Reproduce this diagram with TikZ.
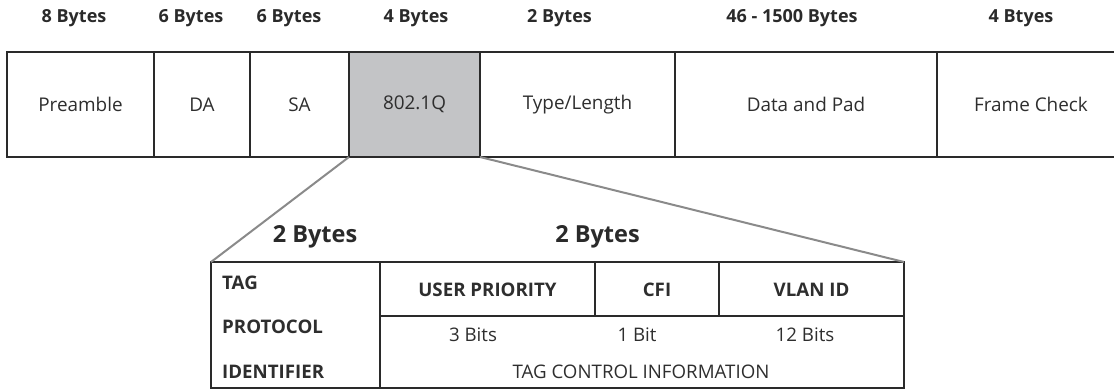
\documentclass[tikz,border=0pt]{standalone}
\usepackage{fontspec}
\setmainfont{Open Sans}
\definecolor{linec}{HTML}{2A2A2A}
\definecolor{txtc}{HTML}{2E2E2E}
\definecolor{qfill}{HTML}{C3C4C6}
\definecolor{connc}{HTML}{8A8A8A}
\tikzset{
  cell/.style={draw=linec, line width=2.4pt, rectangle, inner sep=0pt, outer sep=0pt,
    text=txtc, font=\fontsize{18.9}{22}\selectfont},
  topcell/.style={cell, minimum height=105pt},
  hdr/.style={text=linec, inner sep=0pt, font=\fontsize{18}{21}\selectfont\bfseries},
  bighdr/.style={text=linec, inner sep=0pt, font=\fontsize{23.5}{28}\selectfont\bfseries},
  btxt/.style={text=txtc, inner sep=0pt, font=\fontsize{18.7}{22}\selectfont\bfseries},
  rtxt/.style={text=txtc, inner sep=0pt, font=\fontsize{18.7}{22}\selectfont},
  conn/.style={draw=connc, line width=2pt},
}
\begin{document}
\begin{tikzpicture}[x=1pt,y=-1pt]
\useasboundingbox (0,0) rectangle (1114,390);
% top frame cells
\node[topcell, minimum width=147pt] (pre) at (80.5,104.5) {Preamble};
\node[topcell, minimum width=96pt] (da) at (202,104.5) {DA};
\node[topcell, minimum width=99pt] (sa) at (299.5,104.5) {SA};
\node[topcell, minimum width=131pt, fill=qfill] (q) at (414.5,104.5) {802.1Q};
\node[topcell, minimum width=195pt] (tl) at (577.5,104.5) {Type/Length};
\node[topcell, minimum width=262pt] (dp) at (806,104.5) {Data and Pad};
\node[topcell, minimum width=188pt] (fc) at (1031,104.5) {Frame Check};
% headers
\node[hdr] (h1) at (74,18) {8 Bytes};
\node[hdr] (h2) at (191,18) {6 Bytes};
\node[hdr] (h3) at (289,18) {6 Bytes};
\node[hdr] (h4) at (416,18) {4 Bytes};
\node[hdr] (h5) at (559.5,18) {2 Bytes};
\node[hdr] (h6) at (792,18) {46 - 1500 Bytes};
\node[hdr] (h7) at (1021,18) {4 Btyes};
% lower table
\node[cell, minimum width=169pt, minimum height=126pt] (tpi) at (295.5,325) {};
\node[cell, minimum width=215pt, minimum height=54pt] (up) at (487.5,289) {};
\node[cell, minimum width=124pt, minimum height=54pt] (cfi) at (657,289) {};
\node[cell, minimum width=185pt, minimum height=54pt] (vlan) at (811.5,289) {};
\node[cell, minimum width=524pt, minimum height=72pt] (tci) at (642,352) {};
\node[btxt, anchor=west] (t1) at (222,283) {TAG};
\node[btxt, anchor=west] (t2) at (222,327) {PROTOCOL};
\node[btxt, anchor=west] (t3) at (222,372) {IDENTIFIER};
\node[btxt] (upt) at (487.5,290) {USER PRIORITY};
\node[btxt] (cfit) at (657,290) {CFI};
\node[btxt] (vlant) at (811.5,290) {VLAN ID};
\node[rtxt] (b3) at (473,335) {3 Bits};
\node[rtxt] (b1) at (637,335) {1 Bit};
\node[rtxt] (b12) at (805,335) {12 Bits};
\node[rtxt] (tcit) at (641,372) {TAG CONTROL INFORMATION};
\node[bighdr] (lb1) at (315,237) {2 Bytes};
\node[bighdr] (lb2) at (597.5,237) {2 Bytes};
% connectors
\draw[conn] (q.south west) -- (tpi.north west);
\draw[conn] (q.south east) -- (vlan.north east);
\end{tikzpicture}
\end{document}
